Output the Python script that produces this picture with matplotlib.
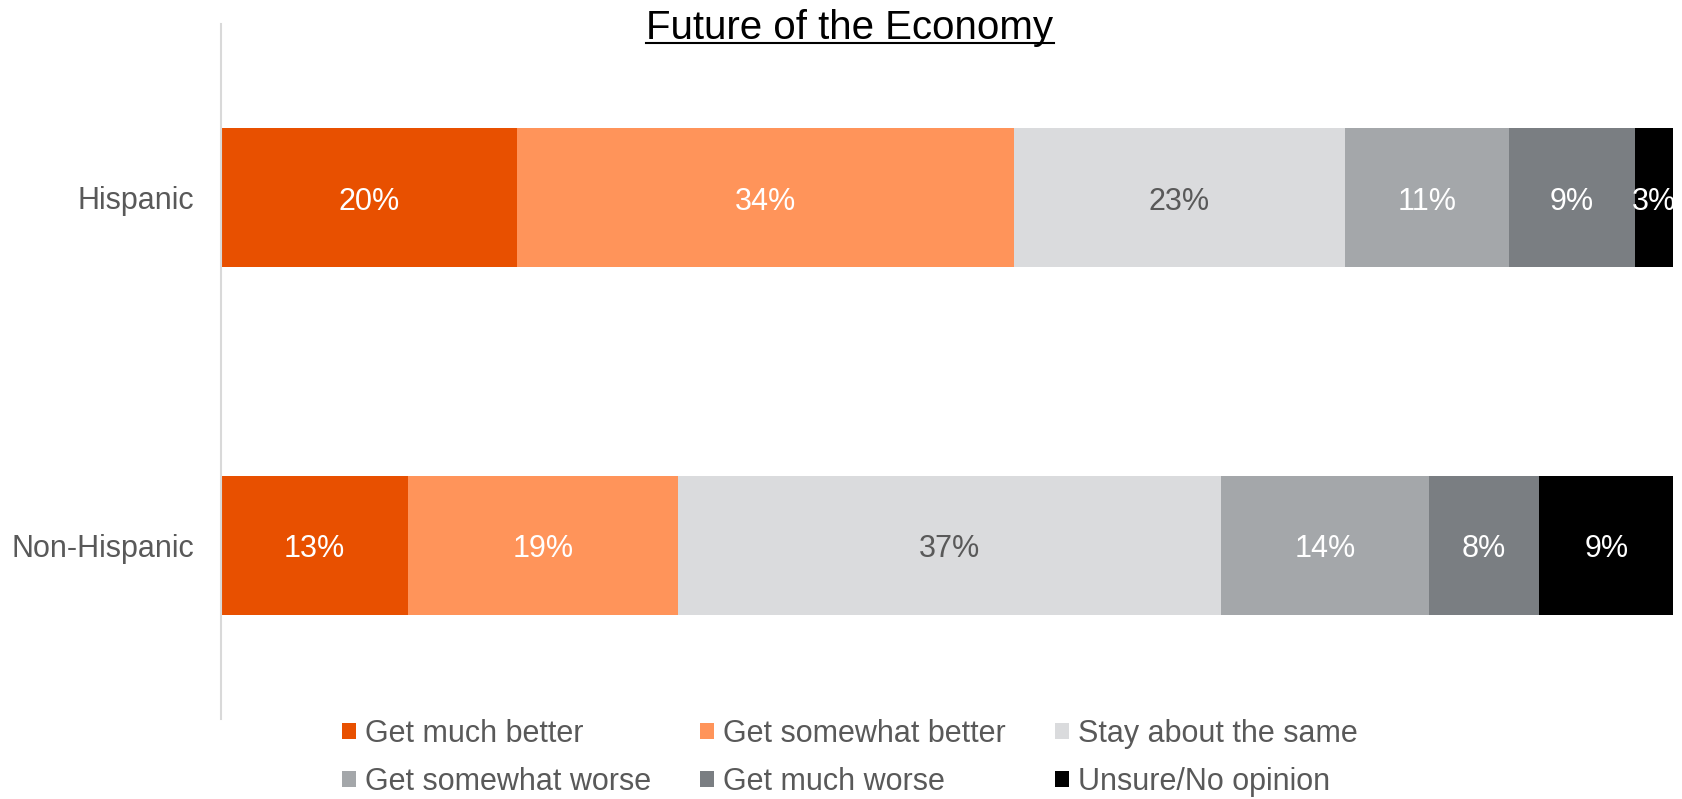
import matplotlib
matplotlib.use('Agg')
import matplotlib.pyplot as plt
from matplotlib.lines import Line2D
import numpy as np

plt.rcParams['font.family'] = ['Liberation Sans', 'DejaVu Sans']

groups = ['Hispanic', 'Non-Hispanic']
answers = ['Get much better', 'Get somewhat better', 'Stay about the same',
           'Get somewhat worse', 'Get much worse', 'Unsure/No opinion']
hispanic = [20.4, 34.2, 22.8, 11.3, 8.7, 2.6]
non_hispanic = [12.9, 18.6, 37.4, 14.3, 7.6, 9.2]

colors = ['#E85000', '#FF945A', '#DADBDD', '#A4A7AA', '#7A7E82', '#000000']
label_colors = ['white', 'white', '#595959', 'white', 'white', 'white']
grey_text = '#595959'

values = np.array([hispanic, non_hispanic])

fig = plt.figure(figsize=(16.82, 7.99), dpi=100)
ax = fig.add_axes([221 / 1682, 1 - 719 / 799, 1452 / 1682, 695 / 799])

y = np.arange(len(groups))
left = np.zeros(len(groups))
for j in range(len(answers)):
    bars = ax.barh(y, values[:, j], left=left, height=0.4,
                   color=colors[j], label=answers[j])
    for i, b in enumerate(bars):
        # small downward nudge so digits sit in the middle of the bar
        ax.text(left[i] + values[i, j] / 2, y[i] + 0.012, f'{values[i, j]:.0f}%',
                ha='center', va='center', fontsize=22, color=label_colors[j])
    left += values[:, j]

ax.set_xlim(0, 100)
ax.set_ylim(1.5, -0.5)
ax.set_yticks(y)
ax.set_yticklabels(groups, fontsize=22, color=grey_text)
ax.tick_params(axis='y', length=0, pad=19)
ax.set_xticks([])
for s in ['top', 'right', 'bottom']:
    ax.spines[s].set_visible(False)
ax.spines['left'].set_color('#D9D9D9')
ax.spines['left'].set_linewidth(1.5)

# legend row-wise order
h, l = ax.get_legend_handles_labels()
order = [0, 3, 1, 4, 2, 5]
leg = fig.legend([h[k] for k in order], [l[k] for k in order], ncol=3,
                 loc='center', bbox_to_anchor=(850 / 1682, 1 - 758 / 799),
                 frameon=False, fontsize=22, handlelength=0.45,
                 handleheight=0.45, handletextpad=0.3, columnspacing=1.6,
                 labelspacing=0.6, borderpad=0)
for t in leg.get_texts():
    t.set_color(grey_text)

# underlined title
title = fig.text(850 / 1682, 1 - 39 / 799, 'Future of the Economy',
                 ha='center', va='baseline', fontsize=29, color='black')
renderer = fig.canvas.get_renderer()
bb = title.get_window_extent(renderer)
uy = 1 - 43 / 799
fig.add_artist(Line2D([bb.x0 / 1682, bb.x1 / 1682], [uy, uy],
                      transform=fig.transFigure, color='black', lw=1.5))

fig.savefig('out.png', dpi=100)
